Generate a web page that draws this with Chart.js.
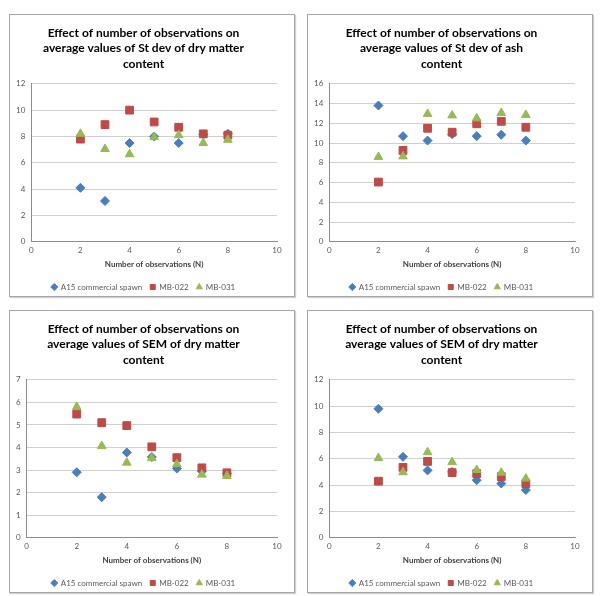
<!doctype html>
<html lang="en">
  <head>
    <meta charset="UTF-8" />
    <title>Effect of number of observations</title>
    <script src="https://cdn.jsdelivr.net/npm/chart.js"></script>
    <style>
      body {
        margin: 0;
        background: #fff;
        width: 604px;
        height: 596px;
        position: relative;
        overflow: hidden;
      }
      .panel {
        position: absolute;
        width: 284px;
        height: 281px;
        border: 1px solid #a6a6a6;
        box-shadow: 1px 1px 1px #d0d0d0;
        background: #fff;
      }
    </style>
  </head>
  <body>
    <div class="panel" style="left: 9px; top: 14px"><canvas id="c1" width="284" height="281"></canvas></div>
    <div class="panel" style="left: 307px; top: 14px"><canvas id="c2" width="284" height="281"></canvas></div>
    <div class="panel" style="left: 9px; top: 310px"><canvas id="c3" width="284" height="281"></canvas></div>
    <div class="panel" style="left: 307px; top: 310px"><canvas id="c4" width="284" height="281"></canvas></div>

    <script>
      // number of observations (N)
      const xValues = [2, 3, 4, 5, 6, 7, 8];
      const seriesNames = ["A15 commercial spawn", "MB-022", "MB-031"];

      // St dev of dry matter content
      const sdDryA15 = [4.1, 3.1, 7.5, 8.0, 7.5, 8.15, 8.2];
      const sdDryMB022 = [7.8, 8.9, 10.0, 9.1, 8.7, 8.2, 8.1];
      const sdDryMB031 = [8.2, 7.05, 6.65, 7.95, 8.1, 7.5, 7.75];

      // St dev of ash content
      const sdAshA15 = [13.8, 10.7, 10.25, 10.9, 10.7, 10.85, 10.25];
      const sdAshMB022 = [6.05, 9.25, 11.5, 11.1, 11.95, 12.2, 11.6];
      const sdAshMB031 = [8.6, 8.65, 12.95, 12.8, 12.5, 13.05, 12.85];

      // SEM of dry matter content (bottom left)
      const semDryA15 = [2.9, 1.8, 3.78, 3.58, 3.07, 2.95, 2.85];
      const semDryMB022 = [5.48, 5.1, 4.97, 4.03, 3.55, 3.1, 2.88];
      const semDryMB031 = [5.8, 4.07, 3.33, 3.53, 3.26, 2.8, 2.74];

      // SEM of dry matter content (bottom right)
      const semDry2A15 = [9.8, 6.15, 5.12, 5.0, 4.38, 4.12, 3.63];
      const semDry2MB022 = [4.3, 5.35, 5.8, 4.95, 4.88, 4.65, 4.12];
      const semDry2MB031 = [6.05, 4.98, 6.5, 5.75, 5.15, 4.95, 4.5];

      const colors = ["#4a7ebb", "#be4b48", "#98b954"];
      const styles = ["rectRot", "rect", "triangle"];
      const radii = [4.5, 5.5, 5];

      // legend keeps its item spacing but takes less height
      const tightLegend = {
        id: "tightLegend",
        beforeInit(chart) {
          const fit = chart.legend.fit;
          chart.legend.fit = function () {
            fit.bind(chart.legend)();
            this.height -= 7;
          };
        },
      };

      function makeChart(id, title, yMax, yStep, series) {
        const datasets = series.map((arr, i) => ({
          label: seriesNames[i],
          data: xValues.map((x, j) => ({ x: x, y: arr[j] })),
          pointStyle: styles[i],
          pointRadius: radii[i],
          backgroundColor: colors[i],
          borderColor: colors[i],
          borderWidth: 1,
          // later series drawn on top, like the original
          order: series.length - i,
        }));

        new Chart(document.getElementById(id), {
          type: "scatter",
          data: { datasets: datasets },
          plugins: [tightLegend],
          options: {
            responsive: false,
            animation: false,
            layout: { padding: { left: 0, right: 17, top: 6, bottom: 2 } },
            plugins: {
              title: {
                display: true,
                text: title,
                color: "#000",
                font: { family: "Lato", size: 12, weight: "bold", lineHeight: 1.3 },
                padding: { top: 4, bottom: 12 },
              },
              legend: {
                position: "bottom",
                labels: {
                  usePointStyle: true,
                  boxWidth: 5,
                  boxHeight: 5,
                  padding: 8,
                  color: "#595959",
                  font: { family: "Lato", size: 8 },
                  sort: (a, b) => a.datasetIndex - b.datasetIndex,
                },
              },
              tooltip: { enabled: false },
            },
            scales: {
              x: {
                type: "linear",
                min: 0,
                max: 10,
                ticks: {
                  stepSize: 2,
                  color: "#595959",
                  font: { family: "Lato", size: 8 },
                  padding: 4,
                },
                grid: { display: false, drawTicks: false },
                border: { display: true, color: "#8c8c8c" },
                title: {
                  display: true,
                  text: "Number of observations (N)",
                  color: "#404040",
                  font: { family: "Lato", size: 8, weight: "bold" },
                  padding: { top: 0, bottom: 6 },
                },
              },
              y: {
                min: 0,
                max: yMax,
                ticks: {
                  stepSize: yStep,
                  color: "#595959",
                  font: { family: "Lato", size: 8 },
                  padding: 6,
                },
                grid: { color: "#d0d0d0", drawTicks: false },
                border: { display: true, color: "#8c8c8c" },
              },
            },
          },
        });
      }

      makeChart(
        "c1",
        ["Effect of number of observations on", "average values of St dev of dry matter", "content"],
        12, 2,
        [sdDryA15, sdDryMB022, sdDryMB031]
      );
      makeChart(
        "c2",
        ["Effect of number of observations on", "average values of St dev of ash", "content"],
        16, 2,
        [sdAshA15, sdAshMB022, sdAshMB031]
      );
      makeChart(
        "c3",
        ["Effect of number of observations on", "average values of SEM of dry matter", "content"],
        7, 1,
        [semDryA15, semDryMB022, semDryMB031]
      );
      makeChart(
        "c4",
        ["Effect of number of observations on", "average values of SEM of dry matter", "content"],
        12, 2,
        [semDry2A15, semDry2MB022, semDry2MB031]
      );
    </script>
  </body>
</html>
